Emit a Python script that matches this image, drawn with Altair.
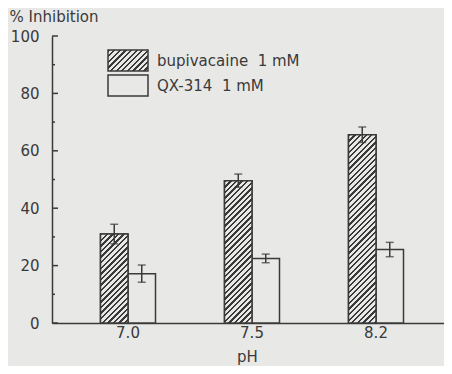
import json
import altair as alt
import pandas as pd

# ---- data ----
ph_labels = ["7.0", "7.5", "8.2"]
drugs = ["bupivacaine\u00a0 1 mM", "QX-314\u00a0 1 mM"]
bupivacaine_mean = [31.0, 49.6, 65.6]
bupivacaine_err = [3.4, 2.3, 2.7]
qx314_mean = [17.2, 22.5, 25.6]
qx314_err = [3.0, 1.5, 2.5]
major_ticks = [0, 20, 40, 60, 80, 100]
minor_ticks = [10, 30, 50, 70, 90]

# ---- style ----
BG = "#e8e8e6"
INK = "#3a3a3a"
FONT = "DejaVu Sans"
W, H = 392, 287
STEP_PX, BAND_PX, FIRST_CENTER = 124, 55, 76
P_IN = 1 - BAND_PX / STEP_PX
P_OUT = (W / STEP_PX - len(ph_labels) + P_IN) / 2
ALIGN = (FIRST_CENTER - BAND_PX / 2) / (W - STEP_PX * (len(ph_labels) - P_IN))
BAR_W = BAND_PX / 2
RECT = "M-2,-1.05H2V1.05H-2Z"   # 40 x 21 swatch at size 400


def hatch(w, h, period=5.6, frac=0.42):
    L = w + h
    k = L / (w * w + h * h)
    dt = period / L
    stops = []
    t = 0.0
    while t < 1.0:
        a = min(t + frac * dt, 1.0)
        b = min(t + dt, 1.0)
        stops += [
            {"offset": round(t, 5), "color": INK},
            {"offset": round(a, 5), "color": INK},
            {"offset": round(a, 5), "color": BG},
            {"offset": round(b, 5), "color": BG},
        ]
        t += dt
    return {"gradient": "linear", "x1": 0, "y1": 0,
            "x2": round(k * w, 5), "y2": round(k * h, 5), "stops": stops}


rows = []
for i, ph in enumerate(ph_labels):
    rows.append(dict(pH=ph, drug=drugs[0], mean=bupivacaine_mean[i],
                     lo=bupivacaine_mean[i] - bupivacaine_err[i],
                     hi=bupivacaine_mean[i] + bupivacaine_err[i]))
    rows.append(dict(pH=ph, drug=drugs[1], mean=qx314_mean[i],
                     lo=qx314_mean[i] - qx314_err[i],
                     hi=qx314_mean[i] + qx314_err[i]))
df = pd.DataFrame(rows)

x_axis = alt.Axis(domain=True, domainColor=INK, domainWidth=1.5, ticks=False,
                  tickSize=0, grid=False, labelAngle=0, labelPadding=2,
                  labelFont=FONT, labelFontSize=15, labelColor=INK,
                  title="pH", titleFont=FONT, titleFontSize=15,
                  titleFontWeight="normal", titleColor=INK, titleX=195,
                  titleY=38, titleBaseline="alphabetic")
y_axis = alt.Axis(values=major_ticks, domain=True, domainColor=INK,
                  domainWidth=1.5, ticks=False, tickSize=0, grid=False,
                  labelPadding=13, labelFont=FONT, labelFontSize=15,
                  labelColor=INK, title="% Inhibition", titleAngle=0,
                  titleAlign="left", titleBaseline="alphabetic", titleX=-43,
                  titleY=-15, titleFont=FONT, titleFontSize=15,
                  titleFontWeight="normal", titleColor=INK)

x_enc = alt.X("pH:N", sort=ph_labels,
              scale=alt.Scale(domain=ph_labels, paddingInner=P_IN,
                              paddingOuter=P_OUT, align=ALIGN),
              axis=x_axis)
xo_enc = alt.XOffset("drug:N", sort=drugs,
                     scale=alt.Scale(domain=drugs, paddingInner=0, paddingOuter=0))
yscale = alt.Scale(domain=[0, 100], nice=False, zero=True)


def y(field):
    return alt.Y(f"{field}:Q", scale=yscale, axis=y_axis)


base = alt.Chart(df)

bars = base.mark_bar(fill=BG, stroke=INK, strokeWidth=1.5).encode(
    x=x_enc, xOffset=xo_enc, y=y("mean"))

legend_layer = base.mark_point(filled=True, shape=RECT).encode(
    x=x_enc, xOffset=xo_enc, y=y("mean"), size=alt.value(0),
    fill=alt.Fill("drug:N", scale=alt.Scale(
        domain=drugs, range=[{"expr": json.dumps(hatch(40, 21))}, BG]),
        legend=alt.Legend(
            title=None, orient="none", legendX=55, legendY=13.5,
            symbolType=RECT, symbolSize=400, symbolOpacity=1,
            symbolOffset=10,
            symbolStrokeColor=INK, symbolStrokeWidth=1.5,
            labelFont=FONT, labelFontSize=15, labelColor=INK,
            labelOffset=18, rowPadding=-7, padding=0)))

hatched = []
for i, ph in enumerate(ph_labels):
    h = bupivacaine_mean[i] * H / 100
    hatched.append(
        base.transform_filter(
            (alt.datum.pH == ph) & (alt.datum.drug == drugs[0])
        ).mark_bar(fill=hatch(BAR_W, h), stroke=INK, strokeWidth=1.5).encode(
            x=x_enc, xOffset=xo_enc, y=y("mean")))

err = base.mark_rule(color=INK, strokeWidth=1.5).encode(
    x=x_enc, xOffset=xo_enc, y=y("lo"), y2="hi:Q")
cap_hi = base.mark_tick(color=INK, size=8, thickness=1.5).encode(
    x=x_enc, xOffset=xo_enc, y=y("hi"))
cap_lo = base.mark_tick(color=INK, size=8, thickness=1.5).encode(
    x=x_enc, xOffset=xo_enc, y=y("lo"))

maj = alt.Chart(pd.DataFrame({"v": major_ticks})).mark_rule(
    color=INK, strokeWidth=1.5).encode(y=y("v"), x=alt.value(0), x2=alt.value(6))
mnr = alt.Chart(pd.DataFrame({"v": minor_ticks})).mark_rule(
    color=INK, strokeWidth=1.5).encode(y=y("v"), x=alt.value(0), x2=alt.value(3))

chart = alt.layer(bars, *hatched, err, cap_hi, cap_lo, maj, mnr, legend_layer).properties(
    width=W, height=H, autosize="none",
    padding={"left": 44, "top": 28, "right": 0, "bottom": 43},
    background=BG,
).configure_view(strokeWidth=0)

chart.save("out.html", embed_options={"renderer": "svg", "actions": False})
